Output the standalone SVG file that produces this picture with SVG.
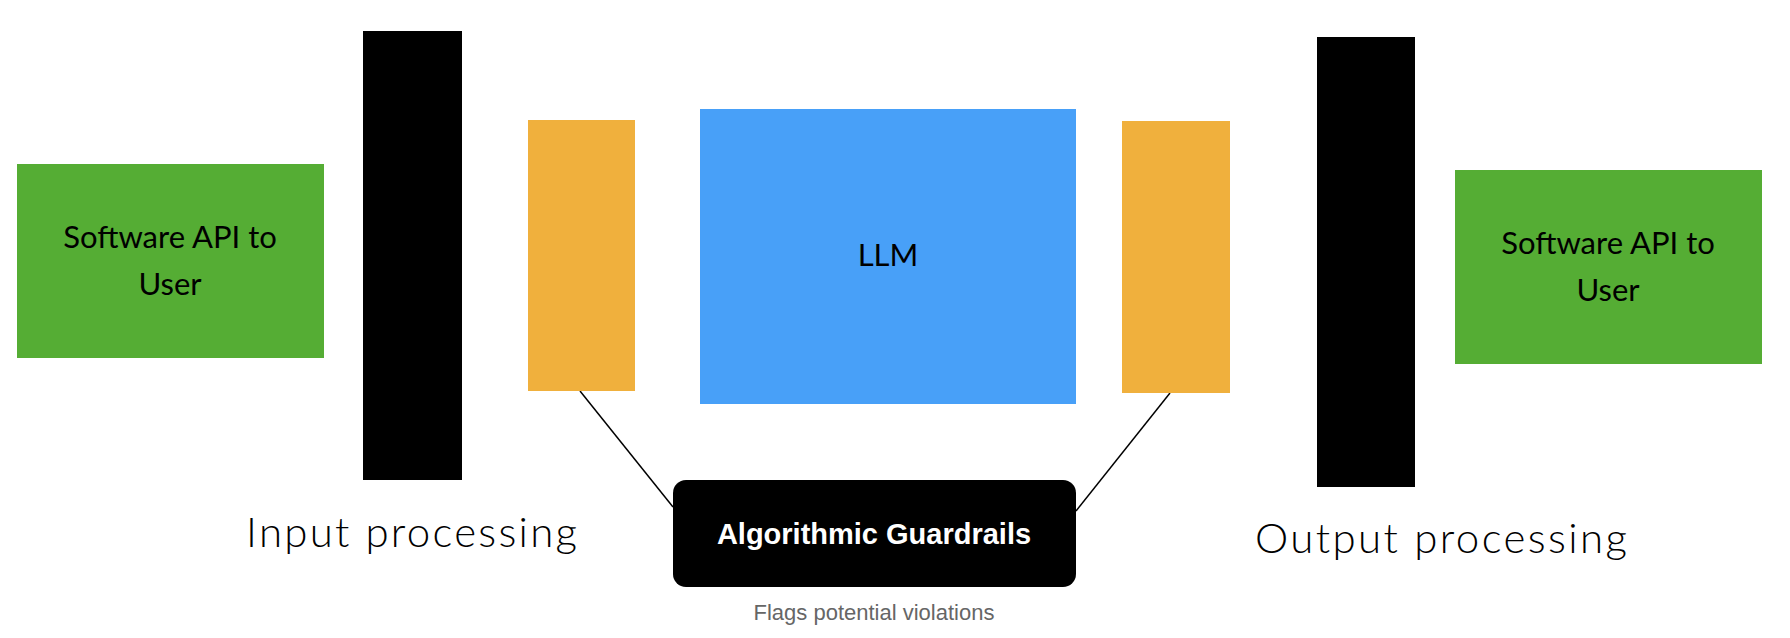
<svg xmlns="http://www.w3.org/2000/svg" width="1790" height="638" viewBox="0 0 1790 638">
<style>
.g{fill:#55ad34}.o{fill:#f0b03d}.k{fill:#000}
.t{font-family:Lato,"Liberation Sans",sans-serif;fill:#000;text-anchor:middle}
.big{font-family:Lato,"Liberation Sans",sans-serif;font-size:42px;font-weight:300;fill:#000}
</style>
<rect width="1790" height="638" fill="#fff"/>
<g id="connectors" stroke="#000" stroke-width="1.5">
<line x1="580" y1="391" x2="673" y2="507"/>
<line x1="1170" y1="393" x2="1076" y2="511"/>
</g>
<g id="api-in"><rect class="g" x="17" y="164" width="307" height="194"/>
<text class="t" font-size="31" x="170" y="248">Software API to</text><text class="t" font-size="31" x="170" y="295">User</text></g>
<g id="input-bar"><rect class="k" x="363" y="31" width="99" height="449"/></g>
<g id="guard-in"><rect class="o" x="528" y="120" width="107" height="271"/></g>
<g id="llm"><rect fill="#48a0f8" x="700" y="109" width="376" height="295"/>
<text class="t" font-size="31" x="888" y="266">LLM</text></g>
<g id="guard-out"><rect class="o" x="1122" y="121" width="108" height="272"/></g>
<g id="output-bar"><rect class="k" x="1317" y="37" width="98" height="450"/></g>
<g id="api-out"><rect class="g" x="1455" y="170" width="307" height="194"/>
<text class="t" font-size="31" x="1608" y="254">Software API to</text><text class="t" font-size="31" x="1608" y="301">User</text></g>
<g id="guardrails"><rect class="k" x="673" y="480" width="403" height="107" rx="13"/>
<text x="874" y="544" text-anchor="middle" font-family="Liberation Sans,Arial,sans-serif" font-weight="bold" font-size="29" fill="#fff">Algorithmic Guardrails</text>
<text x="874" y="620" text-anchor="middle" font-family="Liberation Sans,Arial,sans-serif" font-size="22" fill="#666">Flags potential violations</text></g>
<g id="labels">
<text class="big" x="246" y="547" textLength="331">Input processing</text>
<text class="big" x="1255" y="553" textLength="372">Output processing</text>
</g>
</svg>
